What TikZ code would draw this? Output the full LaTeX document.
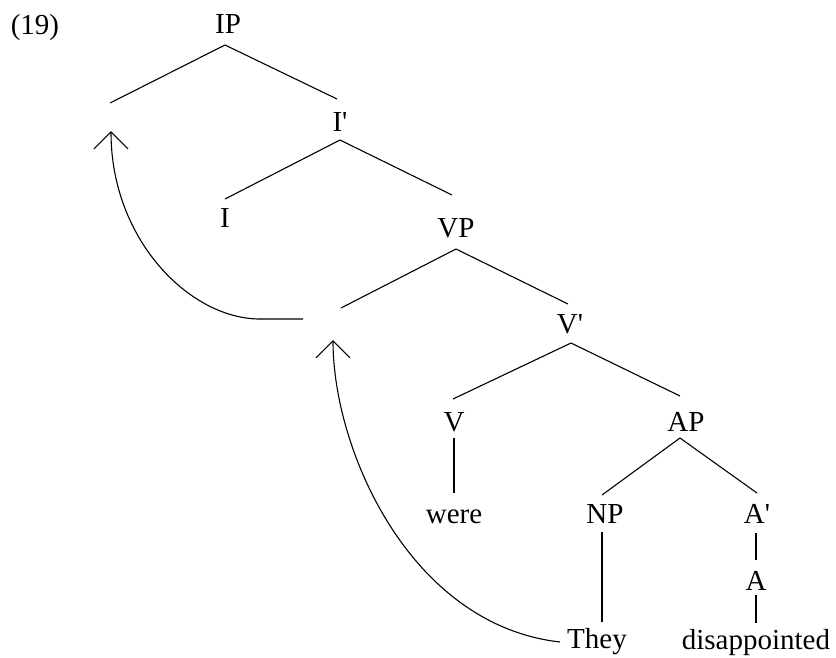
\documentclass[tikz,border=0pt]{standalone}
\usepackage{fontspec}
\setmainfont{Liberation Serif}
\usetikzlibrary{arrows.meta}
\tikzset{
  lab/.style={anchor=base, inner sep=0pt, font=\fontsize{29}{34}\selectfont},
  br/.style={line width=1.1pt},
  mv/.style={line width=1.1pt, -{Straight Barb[length=17pt,width=34pt,line width=1.1pt]}}
}
\begin{document}
\begin{tikzpicture}[x=1pt,y=-1pt]
\useasboundingbox (0,0) rectangle (836,657);
% labels
\node[lab] (num) at (35,34) {(19)};
\node[lab] (IP) at (228,33) {IP};
\node[lab] (Ibar) at (340,131) {I\textquotesingle};
\node[lab] (I) at (225,227) {I};
\node[lab] (VP) at (456,237) {VP};
\node[lab] (Vbar) at (570,333) {V\textquotesingle};
\node[lab] (V) at (454,431) {V};
\node[lab] (AP) at (686,431) {AP};
\node[lab] (were) at (454,523) {were};
\node[lab] (NP) at (605,523) {NP};
\node[lab] (Abar) at (757,523) {A\textquotesingle};
\node[lab] (A) at (756,590) {A};
\node[lab] (They) at (597,648) {They};
\node[lab] (dis) at (756,649) {disappointed};
% empty positions
\coordinate (sIP) at (110,103);
\coordinate (sVP) at (341,308);
\coordinate (t1) at (303,319);
\coordinate (tip1) at (111,131);
\coordinate (tip2) at (333,340);
% branches
\draw[br] (sIP) -- ([shift={(-3,12)}]IP.base) -- ([shift={(-3,-32)}]Ibar.base);
\draw[br] ([shift={(0,-28)}]I.base) -- ([shift={(0,9)}]Ibar.base) -- ([shift={(-4,-42)}]VP.base);
\draw[br] (sVP) -- ([shift={(0,12)}]VP.base) -- ([shift={(-2,-29)}]Vbar.base);
\draw[br] ([shift={(-1,-32)}]V.base) -- ([shift={(1,10)}]Vbar.base) -- ([shift={(-6,-35)}]AP.base);
\draw[br] ([shift={(0,7)}]V.base) -- ([shift={(0,-30)}]were.base);
\draw[br] ([shift={(-3,-28)}]NP.base) -- ([shift={(-6,7)}]AP.base) -- ([shift={(0,-30)}]Abar.base);
\draw[br] ([shift={(-3,9)}]NP.base) -- ([shift={(5,-26)}]They.base);
\draw[br] ([shift={(-1,10)}]Abar.base) -- ([shift={(0,-30)}]A.base);
\draw[br] ([shift={(0,5)}]A.base) -- ([shift={(0,-26)}]dis.base);
% movement arrows
\draw[mv] (t1) -- ++(-43,0) .. controls +(-70,0) and +(0,109) .. (tip1);
\draw[mv] ([shift={(-37,-6)}]They.base) .. controls +(-150,-17) and +(0,110) .. (tip2);
\end{tikzpicture}
\end{document}
